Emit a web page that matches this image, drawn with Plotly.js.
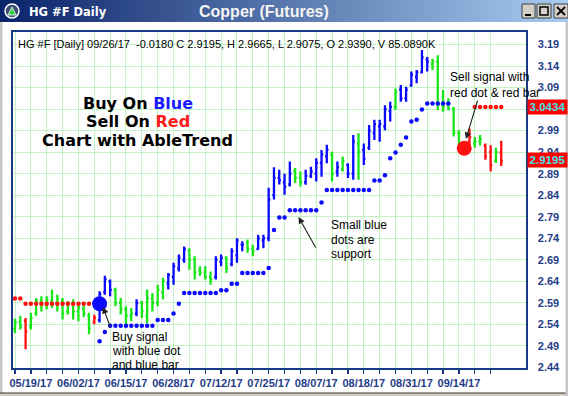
<!DOCTYPE html>
<html><head><meta charset="utf-8">
<script src="https://cdn.plot.ly/plotly-3.0.1.min.js"></script>
<style>html,body{margin:0;padding:0;background:#fff;overflow:hidden}#chart{width:568px;height:396px}</style>
</head><body><div id="chart"></div>
<script>
// ---------------- DATA ----------------
const dates = ["05/16/17","05/17/17","05/18/17","05/19/17","05/22/17","05/23/17","05/24/17","05/25/17","05/26/17","05/30/17","05/31/17",
"06/01/17","06/02/17","06/05/17","06/06/17","06/07/17","06/08/17","06/09/17","06/12/17","06/13/17","06/14/17","06/15/17","06/16/17",
"06/19/17","06/20/17","06/21/17","06/22/17","06/23/17","06/26/17","06/27/17","06/28/17","06/29/17","06/30/17",
"07/03/17","07/05/17","07/06/17","07/07/17","07/10/17","07/11/17","07/12/17","07/13/17","07/14/17","07/17/17","07/18/17","07/19/17","07/20/17","07/21/17",
"07/24/17","07/25/17","07/26/17","07/27/17","07/28/17","07/31/17",
"08/01/17","08/02/17","08/03/17","08/04/17","08/07/17","08/08/17","08/09/17","08/10/17","08/11/17","08/14/17","08/15/17","08/16/17","08/17/17","08/18/17",
"08/21/17","08/22/17","08/23/17","08/24/17","08/25/17","08/28/17","08/29/17","08/30/17","08/31/17",
"09/01/17","09/05/17","09/06/17","09/07/17","09/08/17","09/11/17","09/12/17","09/13/17","09/14/17","09/15/17","09/18/17","09/19/17","09/20/17","09/21/17","09/22/17","09/25/17","09/26/17"];

const open  = [2.530,2.545,2.548,2.535,2.565,2.595,2.585,2.595,2.590,2.595,2.570,2.585,2.570,2.575,2.560,2.545,2.550,2.615,2.640,2.620,2.590,2.575,2.560,2.565,2.590,2.560,2.600,2.590,2.615,2.635,2.650,2.670,2.690,2.712,2.690,2.665,2.660,2.650,2.650,2.685,2.695,2.680,2.700,2.725,2.730,2.715,2.715,2.735,2.740,2.840,2.880,2.870,2.865,2.895,2.880,2.870,2.885,2.890,2.915,2.930,2.935,2.895,2.900,2.910,2.890,2.960,2.945,2.950,2.985,3.000,3.000,3.035,3.045,3.085,3.065,3.095,3.115,3.125,3.155,3.145,3.150,3.050,3.050,3.040,2.985,2.945,2.965,2.960,2.965,2.955,2.940,2.920,2.939];
const high  = [2.553,2.560,2.555,2.567,2.601,2.605,2.605,2.621,2.609,2.601,2.594,2.598,2.590,2.586,2.567,2.562,2.617,2.653,2.644,2.625,2.601,2.582,2.578,2.598,2.594,2.621,2.613,2.632,2.648,2.659,2.683,2.702,2.721,2.717,2.698,2.675,2.675,2.663,2.698,2.702,2.698,2.717,2.740,2.733,2.737,2.725,2.748,2.748,2.857,2.905,2.899,2.890,2.918,2.903,2.895,2.899,2.906,2.926,2.945,2.957,2.941,2.918,2.930,2.914,2.980,2.984,2.960,3.003,3.015,3.015,3.049,3.057,3.088,3.096,3.092,3.127,3.131,3.177,3.161,3.157,3.165,3.084,3.065,3.045,2.991,2.960,2.995,2.975,2.980,2.960,2.956,2.950,2.9665];
const low   = [2.520,2.528,2.482,2.528,2.560,2.570,2.575,2.578,2.570,2.551,2.563,2.551,2.547,2.557,2.517,2.540,2.544,2.609,2.605,2.582,2.563,2.536,2.547,2.559,2.555,2.543,2.570,2.582,2.598,2.621,2.632,2.663,2.683,2.667,2.644,2.652,2.644,2.632,2.644,2.675,2.659,2.675,2.683,2.710,2.706,2.698,2.713,2.717,2.733,2.830,2.865,2.841,2.860,2.868,2.860,2.864,2.880,2.872,2.883,2.914,2.872,2.883,2.895,2.880,2.876,2.876,2.910,2.945,2.968,2.964,2.991,3.011,3.038,3.057,3.057,3.092,3.100,3.123,3.127,3.131,3.038,3.034,3.038,2.976,2.945,2.935,2.957,2.950,2.955,2.922,2.895,2.915,2.9075];
const close = [2.545,2.535,2.523,2.555,2.595,2.585,2.598,2.585,2.600,2.565,2.585,2.570,2.580,2.565,2.530,2.555,2.610,2.645,2.620,2.590,2.575,2.560,2.565,2.590,2.570,2.600,2.590,2.620,2.640,2.655,2.675,2.695,2.715,2.690,2.660,2.660,2.650,2.645,2.690,2.695,2.670,2.710,2.735,2.725,2.715,2.710,2.740,2.740,2.830,2.880,2.875,2.860,2.890,2.880,2.870,2.885,2.895,2.915,2.935,2.945,2.890,2.905,2.920,2.890,2.965,2.940,2.925,2.990,3.005,3.005,3.040,3.045,3.080,3.065,3.085,3.120,3.125,3.160,3.150,3.150,3.050,3.045,3.040,2.985,2.955,2.950,2.975,2.965,2.970,2.930,2.910,2.940,2.9195];
// b = blue (buy), g = green (neutral), r = red (sell)
const barColor = "ggrggggggggggggrbbbggggbgggggbbbbgggggbbgbbbggbbbbbbbggbbbbbgbgbbgbbbbbbgbbbbbbgggggggrggrrgr".split("");
// AbleTrend stop dots
const supportDots = [null,null,null,null,null,null,null,null,null,null,null,null,null,null,null,null,
 2.501,2.522,2.537,2.537,2.537,2.537,2.537,2.537,2.537,2.537,2.537,2.550,2.550,2.550,2.565,2.588,
 2.613,2.613,2.613,2.613,2.613,2.613,2.613,2.619,2.619,2.634,2.634,2.659,2.659,2.659,2.659,2.659,2.671,
 2.759,2.788,2.788,2.805,2.805,2.805,2.805,2.805,2.805,2.823,2.852,2.852,2.852,2.852,2.852,2.852,2.852,2.852,2.852,
 2.874,2.874,2.886,2.926,2.939,2.957,2.974,3.011,3.015,3.039,3.053,3.053,3.053,3.053,3.053,
 null,null,null,null,null,null,null,null,null,null];
const resistDots = [2.600,2.600,2.588,2.588,2.588,2.588,2.588,2.588,2.588,2.588,2.588,2.588,2.588,2.588,2.588,
 null,null,null,null,null,null,null,null,null,null,null,null,null,null,null,null,null,null,null,null,null,null,null,null,null,null,
 null,null,null,null,null,null,null,null,null,null,null,null,null,null,null,null,null,null,null,null,null,null,null,null,null,null,
 null,null,null,null,null,null,null,null,null,null,null,null,null,null,null,null,null,null,null,null,
 3.045,3.045,3.045,3.045,3.045,3.045,3.045,3.045];
// signal dots (index of bar, price)
const buySignal = {idx: 16, price: 2.588};
const sellSignal = {idx: 85, price: 2.949};
const yTicks = [2.44,2.49,2.54,2.59,2.64,2.69,2.74,2.79,2.84,2.89,2.94,2.99,3.04,3.09,3.14,3.19];
const lastPrice = 2.9195, stopPrice = 3.0434;
const infoText = "HG #F [Daily] 09/26/17  -0.0180 C 2.9195, H 2.9665, L 2.9075, O 2.9390, V 85.0890K";

// ---------------- STYLE / LAYOUT ----------------
const W=568,H=396,ML=13,MR=42,MT=32,MB=28, PW=W-ML-MR, PH=H-MT-MB;
const px = X => (X-ML)/PW, py = Y => (H-MB-Y)/PH;
const BLUE='#0a0aff', GREEN='#19e619', RED='#ff1010', NAVY='#173a80';
const FONT='Liberation Sans, Arial, sans-serif';

const idxAll = dates.map((d,i)=>i);
function ohlcFor(code,color){
  const ix = idxAll.filter(i=>barColor[i]===code);
  return {type:'ohlc', x:ix, open:ix.map(i=>open[i]), high:ix.map(i=>high[i]), low:ix.map(i=>low[i]), close:ix.map(i=>close[i]),
    increasing:{line:{color:color,width:2.3}}, decreasing:{line:{color:color,width:2.3}}, line:{width:2.3},
    tickwidth:0.32, hoverinfo:'skip', showlegend:false};
}
const traces = [
  {type:'scatter',mode:'markers',x:idxAll,y:resistDots,marker:{color:RED,size:4.5},hoverinfo:'skip'},
  {type:'scatter',mode:'markers',x:idxAll,y:supportDots,marker:{color:BLUE,size:4.5},hoverinfo:'skip'},
  ohlcFor('g',GREEN), ohlcFor('b',BLUE), ohlcFor('r',RED),
  {type:'scatter',mode:'markers',x:[buySignal.idx],y:[buySignal.price],marker:{color:BLUE,size:15},hoverinfo:'skip'},
  {type:'scatter',mode:'markers',x:[sellSignal.idx],y:[sellSignal.price],marker:{color:RED,size:15},hoverinfo:'skip'}
];

const tickIdx=[]; for(let i=0;i<=90;i+=3) tickIdx.push(i);
const tickTxt = tickIdx.map(i => ((i-3)%9===0) ? dates[i] : '');

const shapes=[];
// title bar gradient
const c0=[10,36,106], c1=[166,202,240], N=71;
for(let k=0;k<N;k++){
  const t=k/(N-1); const c=c0.map((v,j)=>Math.round(v+(c1[j]-v)*t));
  shapes.push({type:'rect',xref:'paper',yref:'paper',x0:px(k*W/N),x1:px((k+1)*W/N+0.6),y0:py(22),y1:py(0),line:{width:0},fillcolor:`rgb(${c})`,layer:'above'});
}
// window buttons
[[522,535],[537,551],[554,568]].forEach(b=>shapes.push({type:'rect',xref:'paper',yref:'paper',x0:px(b[0]),x1:px(b[1]),y0:py(18),y1:py(4),fillcolor:'#d4d0c8',line:{color:'#404040',width:1},layer:'above'}));
shapes.push({type:'line',xref:'paper',yref:'paper',x0:px(525),x1:px(531),y0:py(15),y1:py(15),line:{color:'#000',width:2},layer:'above'});
shapes.push({type:'rect',xref:'paper',yref:'paper',x0:px(540),x1:px(548),y0:py(15),y1:py(7),line:{color:'#000',width:1.5},layer:'above'});
shapes.push({type:'line',xref:'paper',yref:'paper',x0:px(557),x1:px(565),y0:py(15),y1:py(7),line:{color:'#000',width:1.8},layer:'above'});
shapes.push({type:'line',xref:'paper',yref:'paper',x0:px(557),x1:px(565),y0:py(7),y1:py(15),line:{color:'#000',width:1.8},layer:'above'});
// icon
shapes.push({type:'circle',xref:'paper',yref:'paper',x0:px(5),x1:px(19),y0:py(18),y1:py(4),fillcolor:'#3c4c70',line:{color:'#ffffff',width:1.5},layer:'above'});
shapes.push({type:'path',xref:'paper',yref:'paper',path:`M ${px(8)},${py(15)} L ${px(12)},${py(7)} L ${px(16)},${py(15)} Z`,fillcolor:'#2ed23e',line:{color:'#ffffff',width:0.8},layer:'above'});
// frame edges
shapes.push({type:'rect',xref:'paper',yref:'paper',x0:px(0),x1:px(2.5),y0:py(396),y1:py(22),fillcolor:'#c8c8c8',line:{width:0},layer:'above'});
shapes.push({type:'rect',xref:'paper',yref:'paper',x0:px(0),x1:px(568),y0:py(396),y1:py(393),fillcolor:'#d4d0c8',line:{width:0},layer:'above'});
shapes.push({type:'line',xref:'paper',yref:'paper',x0:px(0),x1:px(568),y0:py(393),y1:py(393),line:{color:'#303030',width:1},layer:'above'});
shapes.push({type:'rect',xref:'paper',yref:'paper',x0:px(565.5),x1:px(568),y0:py(396),y1:py(22),fillcolor:'#c8c8c8',line:{width:0},layer:'above'});

const ann=[];
const txt=(X,Y,s,opt)=>ann.push(Object.assign({xref:'paper',yref:'paper',x:px(X),y:py(Y),text:s,showarrow:false,xanchor:'left',yanchor:'middle',font:{family:FONT,size:12,color:'#000'}},opt||{}));
txt(27,11.5,'HG #F Daily',{font:{family:'DejaVu Sans, sans-serif',size:11.5,color:'#fff',weight:'bold'}});
txt(264,12,'Copper (Futures)',{xanchor:'center',font:{family:FONT,size:16,color:'#f4f4f4',weight:'bold'}});
txt(15.5,44.5,infoText,{font:{family:FONT,size:11,color:'#000'}});
const big={family:'DejaVu Sans, sans-serif',size:16,color:'#000',weight:'bold'};
txt(137.5,103,'Buy On <span style="color:#1a1aff">Blue</span>',{xanchor:'center',font:big});
txt(137.5,121.5,'Sell On <span style="color:#ff1a1a">Red</span>',{xanchor:'center',font:big});
txt(137.5,140,'Chart with AbleTrend',{xanchor:'center',font:big});
txt(110,337,'Buy signal'); txt(110,351,'with blue dot'); txt(110,364.5,'and blue bar');
txt(328.5,225,'Small blue'); txt(328.5,239.5,'dots are'); txt(328.5,253.5,'support');
txt(447.5,77,'Sell signal with'); txt(447.5,92.5,'red dot &amp; red bar');
// arrows
const arrow=(hx,hy,tx,ty)=>ann.push({xref:'paper',yref:'paper',x:px(hx),y:py(hy),ax:tx-hx,ay:ty-hy,text:'',showarrow:true,arrowhead:2,arrowsize:1.2,arrowwidth:1.1,arrowcolor:'#222'});
arrow(103,307,111,329);
arrow(298.5,217,316.5,249);
arrow(466,139,478,99);
// price boxes (they cover the axis labels beneath them, as in the source)
[[stopPrice],[lastPrice]].forEach(p=>ann.push({xref:'paper',yref:'y',x:1,xshift:1,y:p[0],yshift:1,xanchor:'left',yanchor:'middle',text:p[0].toFixed(4),showarrow:false,
  bgcolor:'#ff0000',width:39,height:14,borderpad:0,align:'center',font:{family:FONT,size:11.5,color:'#3ee6f0',weight:'bold'}}));

const layout={width:W,height:H,margin:{l:ML,r:MR,t:MT,b:MB,pad:0},paper_bgcolor:'#ffffff',plot_bgcolor:'#ffffff',showlegend:false,
  xaxis:{range:[-0.38,96.69],tickmode:'array',tickvals:tickIdx,ticktext:tickTxt,ticks:'outside',ticklen:4,tickwidth:1.3,tickcolor:NAVY,
    showgrid:true,gridcolor:'#c2f3c2',gridwidth:1,zeroline:false,showline:true,mirror:true,linecolor:NAVY,linewidth:1.6,
    rangeslider:{visible:false},tickfont:{family:FONT,size:11,color:'#1f3c88',weight:'bold'},fixedrange:true},
  yaxis:{side:'right',range:[2.4386,3.219],tickmode:'array',tickvals:yTicks,ticktext:yTicks.map(v=>Math.abs(v-3.04)<1e-9?'':v.toFixed(2)),ticks:'',ticklabelstandoff:8,
    showgrid:true,gridcolor:'#c2f3c2',gridwidth:1,zeroline:false,showline:true,mirror:true,linecolor:NAVY,linewidth:1.6,
    tickfont:{family:FONT,size:11,color:'#1f3c88',weight:'bold'},fixedrange:true},
  shapes:shapes, annotations:ann};
Plotly.newPlot('chart',traces,layout,{displayModeBar:false,staticPlot:true});
</script></body></html>
